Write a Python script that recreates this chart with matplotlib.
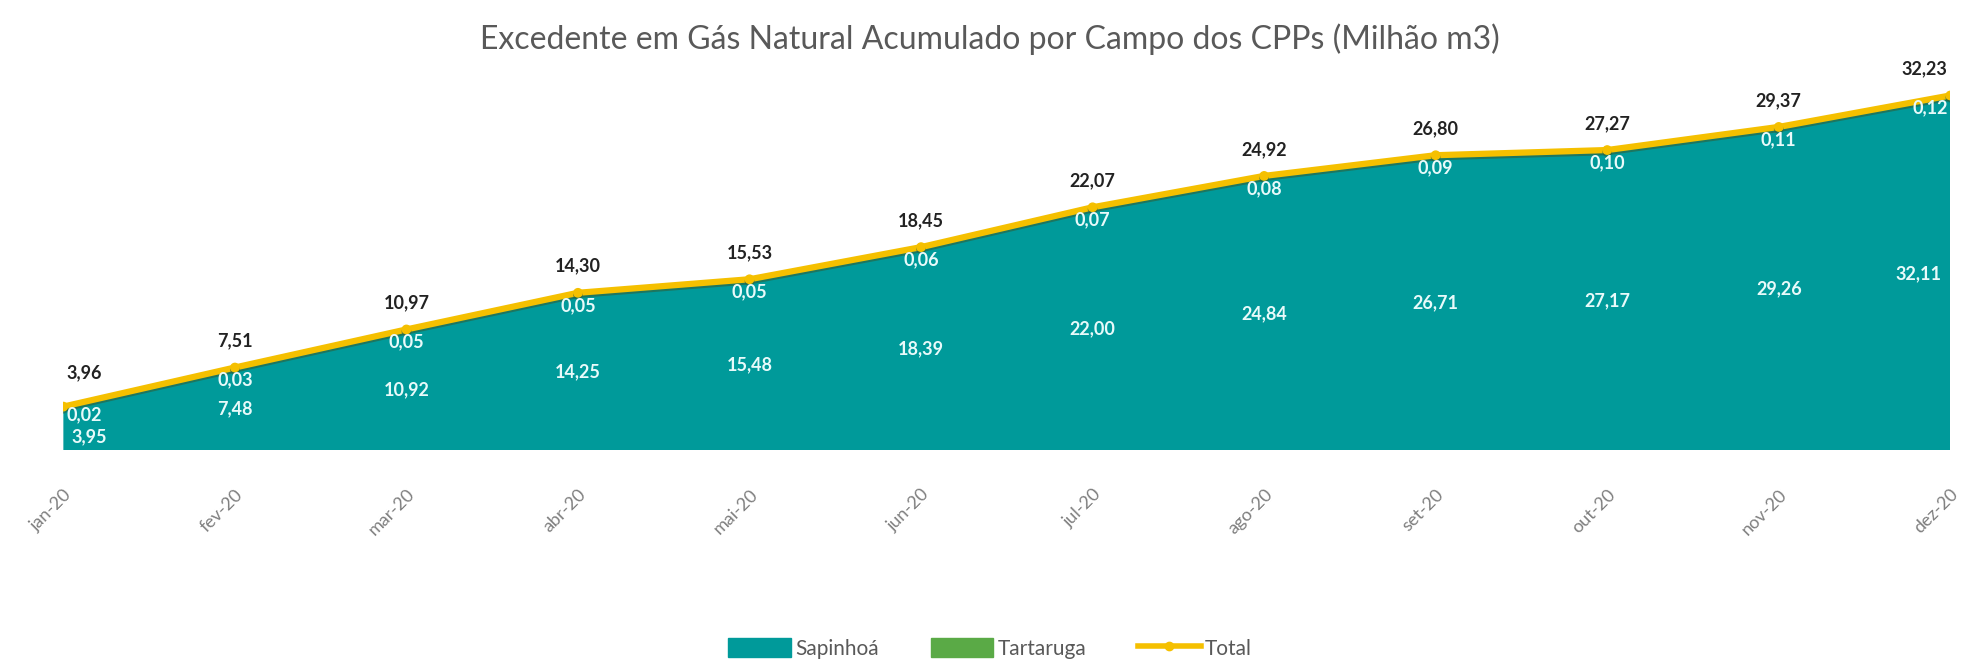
import matplotlib.pyplot as plt
import matplotlib.patheffects as pe
from matplotlib.patches import Patch
from matplotlib.lines import Line2D
import numpy as np

months = ["jan-20", "fev-20", "mar-20", "abr-20", "mai-20", "jun-20",
          "jul-20", "ago-20", "set-20", "out-20", "nov-20", "dez-20"]
sapinhoa = [3.95, 7.48, 10.92, 14.25, 15.48, 18.39, 22.00, 24.84, 26.71, 27.17, 29.26, 32.11]
tartaruga = [0.02, 0.03, 0.05, 0.05, 0.05, 0.06, 0.07, 0.08, 0.09, 0.10, 0.11, 0.12]
total = [3.96, 7.51, 10.97, 14.30, 15.53, 18.45, 22.07, 24.92, 26.80, 27.27, 29.37, 32.23]

TEAL = "#009a9a"
GREEN = "#5aaa46"
GOLD = "#f5c000"

plt.rcParams['font.family'] = ['Lato', 'DejaVu Sans']

def br(v):
    return f"{v:.2f}".replace(".", ",")

fig = plt.figure(figsize=(19.8, 6.63), dpi=100)
ax = fig.add_axes([0.032, 0.321, 0.953, 0.581])
x = np.arange(len(months))

ax.stackplot(x, sapinhoa, tartaruga, colors=[TEAL, GREEN])
ax.plot(x, total, color=GOLD, lw=4.5, marker="o", ms=6, solid_capstyle="round",
        path_effects=[pe.SimpleLineShadow(offset=(0, -1.5), shadow_color="#2f5f3a", alpha=0.6), pe.Normal()])

n = len(months)
for i in x:
    # keep the edge labels inside the plot area
    if i == 0:
        ha, dx = "left", 2
    elif i == n - 1:
        ha, dx = "right", -2
    else:
        ha, dx = "center", 0
    ax.annotate(br(total[i]), (i, total[i]), xytext=(dx, 18 if i == 0 else 13),
                textcoords="offset points", ha="center" if 0 < i < n - 1 else ha, va="bottom",
                fontsize=13, fontweight="bold", color="#222222", annotation_clip=False)
    ax.annotate(br(tartaruga[i]), (i, total[i]), xytext=(dx, -6 if i == 0 else -9), textcoords="offset points",
                ha=ha, va="center", fontsize=13, fontweight="bold", color="#e8fafa")
    ax.annotate(br(sapinhoa[i]), (i, sapinhoa[i] / 2), xytext=(dx * 3, -6 if i == 0 else 0),
                textcoords="offset points", ha=ha, va="center",
                fontsize=13, fontweight="bold", color="#e8fafa")

ax.set_xlim(0, n - 1)
ax.set_ylim(0, 35)
ax.set_xticks(x)
ax.set_xticklabels(months, rotation=45, ha="right", rotation_mode="anchor", color="#7f7f7f", fontsize=13)
ax.tick_params(axis="x", length=0, pad=26)
ax.set_yticks([])
for s in ax.spines.values():
    s.set_visible(False)

fig.suptitle("Excedente em Gás Natural Acumulado por Campo dos CPPs (Milhão m3)",
             x=0.5, y=0.965, fontsize=23, color="#595959")

handles = [Patch(color=TEAL, label="Sapinhoá"),
           Patch(color=GREEN, label="Tartaruga"),
           Line2D([], [], color=GOLD, lw=4, marker="o", ms=6, label="Total")]
fig.legend(handles=handles, loc="center", bbox_to_anchor=(0.5, 0.022), ncol=3, frameon=False,
           fontsize=15, labelcolor="#595959", handlelength=3.0, handleheight=1.0,
           handletextpad=0.2, columnspacing=2.5, borderpad=0.1)

fig.savefig("out.png")
